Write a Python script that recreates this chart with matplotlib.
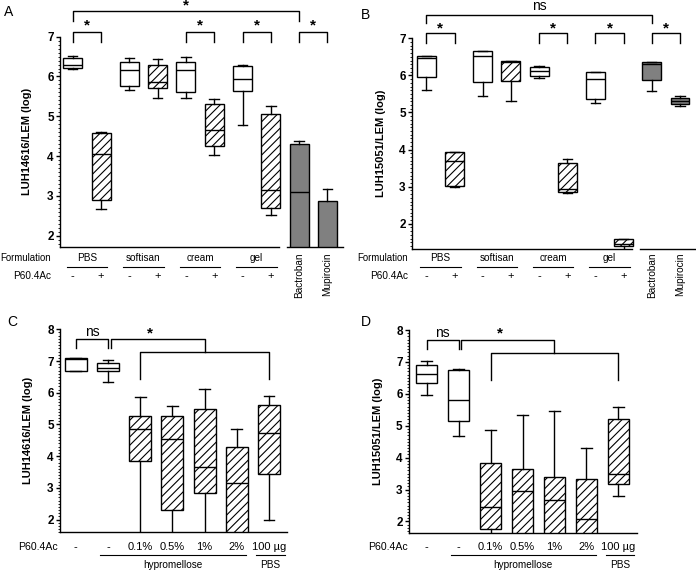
import matplotlib.pyplot as plt
from matplotlib.ticker import MultipleLocator
from matplotlib.transforms import blended_transform_factory

plt.rcParams['font.family'] = ['Liberation Sans', 'DejaVu Sans']
plt.rcParams['hatch.linewidth'] = 0.8

W, H = 696, 572

# ---- panels A and B: formulations with / without P60.4Ac, plus controls
formulations = ["PBS", "softisan", "cream", "gel"]
peptide_signs = ["-", "+", "-", "+", "-", "+", "-", "+"]
controls = ["Bactroban", "Mupirocin"]

a_hi = [6.51, 4.61, 6.47, 6.43, 6.49, 5.44, 6.29, 5.27, 4.39, 3.16]
a_q3 = [6.46, 4.57, 6.36, 6.29, 6.37, 5.30, 6.26, 5.05, 4.29, 2.87]
a_med = [6.30, 4.06, 6.16, 5.87, 6.16, 4.65, 5.94, 3.14, 3.09, 1.60]
a_q1 = [6.22, 2.90, 5.76, 5.70, 5.62, 4.24, 5.64, 2.70, 1.50, 1.50]
a_lo = [6.20, 2.66, 5.65, 5.45, 5.45, 4.02, 4.78, 2.52, 1.40, 1.40]

b_hi = [6.53, 3.93, 6.66, 6.39, 6.25, 3.74, 6.08, 1.60, 6.35, 5.44]
b_q3 = [6.53, 3.93, 6.66, 6.39, 6.22, 3.65, 6.08, 1.60, 6.35, 5.40]
b_med = [6.46, 3.70, 6.51, 6.37, 6.12, 2.93, 5.90, 1.45, 6.30, 5.31]
b_q1 = [5.97, 3.03, 5.83, 5.85, 5.98, 2.86, 5.36, 1.41, 5.87, 5.24]
b_lo = [5.61, 2.98, 5.45, 5.30, 5.92, 2.84, 5.25, 1.20, 5.58, 5.18]

# ---- panels C and D: hypromellose gel with P60.4Ac
cd_labels = ["-", "-", "0.1%", "0.5%", "1%", "2%", "100 µg"]

c_hi = [7.11, 7.02, 5.88, 5.58, 6.12, 4.86, 5.89]
c_q3 = [7.11, 6.95, 5.28, 5.28, 5.48, 4.29, 5.60]
c_med = [7.05, 6.79, 4.87, 4.54, 3.65, 3.15, 4.74]
c_q1 = [6.67, 6.69, 3.85, 2.30, 2.84, 1.50, 3.44]
c_lo = [6.67, 6.35, 1.40, 1.40, 1.40, 1.40, 1.99]

d_hi = [7.04, 6.79, 4.87, 5.35, 5.47, 4.29, 5.60]
d_q3 = [6.90, 6.75, 3.83, 3.65, 3.38, 3.32, 5.20]
d_med = [6.61, 5.82, 2.44, 2.94, 2.68, 2.07, 3.48]
d_q1 = [6.35, 5.16, 1.78, 1.50, 1.50, 1.50, 3.17]
d_lo = [5.95, 4.68, 1.40, 1.40, 1.40, 1.40, 2.80]

fig = plt.figure(figsize=(W / 100, H / 100), dpi=100)


def fy(py):
    return 1 - py / H


def px_axes(l, t, r, b):
    return fig.add_axes([l / W, 1 - b / H, (r - l) / W, (b - t) / H])


def draw_boxes(ax, hi, q3, med, q1, lo, faces, hatches, width):
    stats = [dict(whishi=h, q3=a, med=m, q1=b, whislo=l, fliers=[])
             for h, a, m, b, l in zip(hi, q3, med, q1, lo)]
    pos = list(range(1, len(stats) + 1))
    art = ax.bxp(stats, positions=pos, widths=width, capwidths=width / 2,
                 patch_artist=True, showfliers=False,
                 boxprops=dict(linewidth=1, edgecolor="black"),
                 medianprops=dict(color="black", linewidth=1),
                 whiskerprops=dict(color="black", linewidth=1),
                 capprops=dict(color="black", linewidth=1))
    for box, fc, h in zip(art["boxes"], faces, hatches):
        box.set_facecolor(fc)
        box.set_hatch(h)


def style_axes(ax, ylim, xlim, yticks, ylabel, label_x):
    ax.set_xlim(*xlim)
    ax.set_ylim(*ylim)
    ax.set_yticks(yticks)
    ax.set_yticklabels([str(t) for t in yticks], fontweight="bold", fontsize=8.5)
    ax.yaxis.set_minor_locator(MultipleLocator(0.1))
    ax.tick_params(axis="y", which="major", length=3, width=1, pad=1.5)
    ax.tick_params(axis="y", which="minor", length=1.5, width=0.6)
    ax.tick_params(axis="x", bottom=False, labelbottom=False)
    for s in ["top", "right"]:
        ax.spines[s].set_visible(False)
    ax.spines["left"].set_linewidth(1)
    ax.spines["bottom"].set_linewidth(1)
    ax.set_ylabel(ylabel, fontweight="bold", fontsize=8)
    ax.yaxis.set_label_coords(label_x, 0.5)


def bracket(ax, x0, x1, y, leg0, leg1):
    ax.plot([x0, x0, x1, x1], [leg0, y, y, leg1], color="black", lw=1,
            clip_on=False)


def star(ax, x, y, s="*", size=11):
    ax.text(x, y, s, ha="center", va="center", fontsize=size,
            fontweight="bold" if s == "*" else "normal")


# ================= A and B =================
ab_faces = ["white"] * 8 + ["#808080"] * 2
ab_hatch = ["", "////"] * 4 + ["", ""]

panels_ab = [
    ("A", (60, 36.7, 343, 246.7), (1.72, 7), (0.55, 10.55), "LUH14616/LEM (log)",
     (a_hi, a_q3, a_med, a_q1, a_lo), -0.099, (9, 12), 51, "*"),
    ("B", (412, 38.3, 696, 249), (1.32, 7), (0.49, 10.57), "LUH15051/LEM (log)",
     (b_hi, b_q3, b_med, b_q1, b_lo), -0.092, (366, 15), 408, "ns"),
]

for letter, box, ylim, xlim, ylabel, vals, lx, lpos, lab_r, top_sig in panels_ab:
    ax = px_axes(*box)
    draw_boxes(ax, *vals, ab_faces, ab_hatch, 0.67)
    style_axes(ax, ylim, xlim, [2, 3, 4, 5, 6, 7], ylabel, lx)
    # broken x axis under the controls
    ax.spines["bottom"].set_bounds(xlim[0], 8.29)
    ax.plot([8.58, xlim[1]], [ylim[0], ylim[0]], color="black", lw=1, clip_on=False)

    # significance brackets
    bracket(ax, 1, 9, 7.64, 7.40, 7.40)
    if top_sig == "*":
        star(ax, 5, 7.78)
    else:
        star(ax, 5, 7.86, "ns", 10)
    for x0 in [1, 5, 7, 9]:
        bracket(ax, x0, x0 + 1, 7.13, 6.87, 6.87)
        star(ax, x0 + 0.5, 7.27)

    tr = blended_transform_factory(ax.transData, fig.transFigure)
    for i, name in enumerate(formulations):
        c = 1.5 + 2 * i
        ax.text(c, fy(258), name, transform=tr, ha="center", va="center", fontsize=7.2)
        ax.plot([c - 0.72, c + 0.72], [fy(267)] * 2, transform=tr, color="black",
                lw=0.8, clip_on=False)
    for i, sgn in enumerate(peptide_signs):
        ax.text(i + 1, fy(276), sgn, transform=tr, ha="center", va="center", fontsize=8)
    for i, name in enumerate(controls):
        ax.text(9 + i, fy(252), name, transform=tr, rotation=90, ha="center",
                va="top", fontsize=7.2)
    fig.text(lab_r / W, fy(258), "Formulation", ha="right", va="center", fontsize=6.9)
    fig.text(lab_r / W, fy(276), "P60.4Ac", ha="right", va="center", fontsize=7.2)
    fig.text(lpos[0] / W, fy(lpos[1]), letter, ha="center", va="center", fontsize=10)

# ================= C and D =================
cd_faces = ["white"] * 7
cd_hatch = ["", ""] + ["////"] * 5

panels_cd = [
    ("C", (60, 329.3, 286.7, 532.3), (1.60, 8), (0.51, 7.55), "LUH14616/LEM (log)",
     (c_hi, c_q3, c_med, c_q1, c_lo), -0.119, (12, 322), 58),
    ("D", (409, 330, 637, 533.3), (1.63, 8), (0.45, 7.58), "LUH15051/LEM (log)",
     (d_hi, d_q3, d_med, d_q1, d_lo), -0.114, (366, 322), 408),
]

for letter, box, ylim, xlim, ylabel, vals, lx, lpos, lab_r in panels_cd:
    ax = px_axes(*box)
    draw_boxes(ax, *vals, cd_faces, cd_hatch, 0.68)
    style_axes(ax, ylim, xlim, [2, 3, 4, 5, 6, 7, 8], ylabel, lx)

    bracket(ax, 1, 2, 7.68, 7.40, 7.40)
    star(ax, 1.5, 7.9, "ns", 10)
    bracket(ax, 2.08, 5, 7.68, 7.40, 7.29)
    star(ax, 3.3, 7.88)
    bracket(ax, 3, 7, 7.29, 6.44, 6.44)

    tr = blended_transform_factory(ax.transData, fig.transFigure)
    for i, lab in enumerate(cd_labels):
        ax.text(i + 1, fy(547), lab, transform=tr, ha="center", va="center", fontsize=8)
    ax.plot([1.75, 6.3], [fy(554.5)] * 2, transform=tr, color="black", lw=0.8, clip_on=False)
    ax.plot([6.6, 7.5], [fy(554.5)] * 2, transform=tr, color="black", lw=0.8, clip_on=False)
    ax.text((1.75 + 6.3) / 2, fy(564.5), "hypromellose", transform=tr, ha="center",
            va="center", fontsize=7.2)
    ax.text(7.05, fy(564.5), "PBS", transform=tr, ha="center", va="center", fontsize=7.2)
    fig.text(lab_r / W, fy(547), "P60.4Ac", ha="right", va="center", fontsize=7.6)
    fig.text(lpos[0] / W, fy(lpos[1]), letter, ha="center", va="center", fontsize=10)

plt.savefig("out.png", dpi=100)
